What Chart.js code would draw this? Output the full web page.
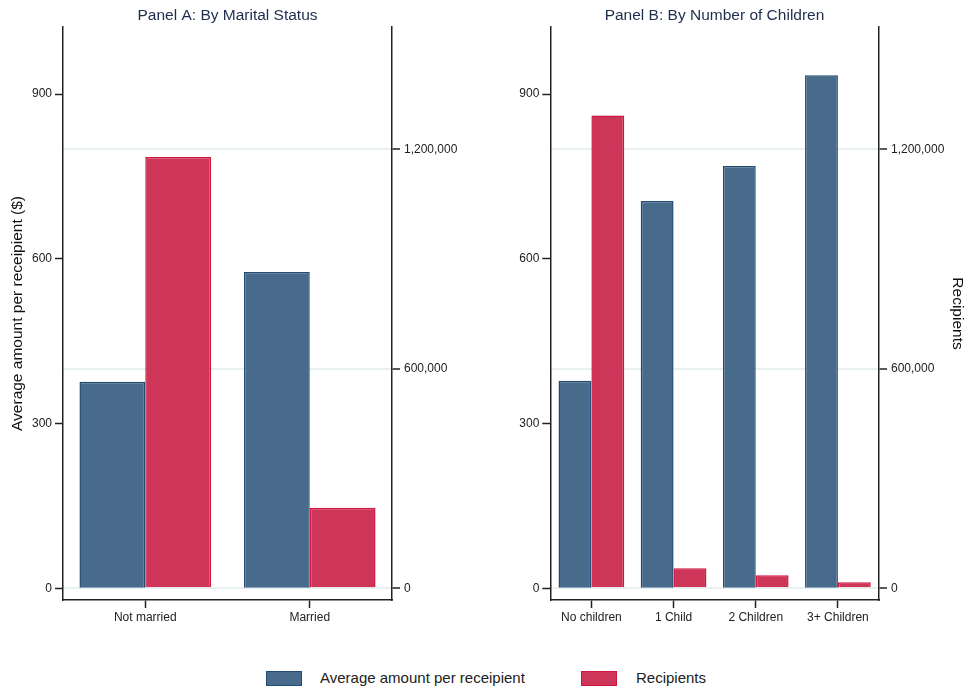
<!DOCTYPE html>
<html>
<head>
<meta charset="utf-8">
<script src="https://cdn.jsdelivr.net/npm/chart.js@4/dist/chart.umd.min.js"></script>
<style>
  html, body { margin: 0; padding: 0; background: #fff; }
  body { width: 967px; height: 689px; position: relative; overflow: hidden; font-family: "Liberation Sans", Arial, sans-serif; }
  .panel { position: absolute; top: 0; }
  #panel-a { left: -25px; }
  #panel-b { left: 460px; }
  .legend { position: absolute; top: 669px; height: 20px; font-size: 15px; color: #222; }
  .legend .item { position: absolute; top: 0; white-space: nowrap; }
  .legend .swatch { position: absolute; top: 2px; width: 34px; height: 13px; border: 1.5px solid; }
  .legend .label { position: absolute; top: 0; line-height: 18px; }
</style>
</head>
<body>
<canvas id="panel-a" class="panel" width="505" height="650"></canvas>
<canvas id="panel-b" class="panel" width="507" height="650"></canvas>
<div class="legend">
  <div class="item" style="left:266px">
    <div class="swatch" style="background:#486a8b;border-color:#234a72"></div>
    <div class="label" style="left:54px">Average amount per receipient</div>
  </div>
  <div class="item" style="left:581px">
    <div class="swatch" style="background:#cd3659;border-color:#d0163f"></div>
    <div class="label" style="left:55px">Recipients</div>
  </div>
</div>
<script>
const MARITAL_LABELS = ['Not married', 'Married'];
const MARITAL_AVG = [376, 576];
const MARITAL_RECIPIENTS = [1179000, 220000];

const CHILDREN_LABELS = ['No children', '1 Child', '2 Children', '3+ Children'];
const CHILDREN_AVG = [378, 705, 769, 934];
const CHILDREN_RECIPIENTS = [1292000, 54700, 35500, 16400];

const AVG_TICKS = [0, 300, 600, 900];
const RECIPIENT_TICKS = [0, 600000, 1200000];

const BLUE = '#486a8b', BLUE_EDGE = '#234a72';
const RED = '#cd3659', RED_EDGE = '#d0163f';
const AXIS = '#222';
const FONT = '"Liberation Sans", Arial, sans-serif';

const fmtInt = (v) => v.toLocaleString('en-US');

// One panel: left axis = average amount, right axis = recipients.
// Axis widths are fixed so the title lands centred over the plot area.
function makePanel(canvasId, { title, labels, avg, recipients, leftWidth, rightWidth, pad, leftTitle, leftTitlePad, rightTitle }) {
  const tickFont = { family: FONT, size: 12 };
  const axisTitleFont = { family: FONT, size: 15.5 };
  const fixedTicks = (values) => (scale) => { scale.ticks = values.map((v) => ({ value: v })); };
  return new Chart(document.getElementById(canvasId), {
    type: 'bar',
    data: {
      labels,
      datasets: [
        { label: 'Average amount per receipient', data: avg, yAxisID: 'y',
          backgroundColor: BLUE, borderColor: BLUE_EDGE, borderWidth: 1.5 },
        { label: 'Recipients', data: recipients, yAxisID: 'y1',
          backgroundColor: RED, borderColor: RED_EDGE, borderWidth: 1.5 },
      ],
    },
    options: {
      responsive: false,
      animation: false,
      layout: { padding: { left: pad.left, right: pad.right, top: 0, bottom: 0 } },
      datasets: { bar: { categoryPercentage: 0.8, barPercentage: 1 } },
      plugins: {
        legend: { display: false },
        tooltip: { enabled: false },
        title: {
          display: true, text: title, color: '#1f2d4d',
          font: { family: FONT, size: 15.5, weight: 'normal' },
          padding: { top: 6, bottom: 2.4 },
        },
      },
      scales: {
        x: {
          offset: true,
          grid: { offset: false, drawOnChartArea: false, tickLength: 8, tickColor: AXIS, tickWidth: 1.5 },
          border: { display: true, color: AXIS, width: 1.5 },
          ticks: { color: AXIS, font: tickFont, padding: 2, maxRotation: 0 },
          afterFit: (s) => { s.height = 50; },
        },
        y: {
          position: 'left',
          min: -21.3, max: 1022,
          afterBuildTicks: fixedTicks(AVG_TICKS),
          grid: { drawOnChartArea: false, tickLength: 8, tickColor: AXIS, tickWidth: 1.5 },
          border: { display: true, color: AXIS, width: 1.5 },
          ticks: { color: AXIS, font: tickFont, padding: 3 },
          title: {
            display: !!leftTitle, text: leftTitle || '', color: '#111',
            font: axisTitleFont, padding: { top: leftTitlePad || 0, bottom: 0 },
          },
          afterFit: (s) => { s.width = leftWidth; },
        },
        y1: {
          position: 'right',
          min: -32000, max: 1534000,
          afterBuildTicks: fixedTicks(RECIPIENT_TICKS),
          grid: { drawOnChartArea: true, color: '#e8f0f2', lineWidth: 2,
                  tickLength: 8, tickColor: AXIS, tickWidth: 1.5 },
          border: { display: true, color: AXIS, width: 1.5 },
          ticks: { color: AXIS, font: tickFont, padding: 4, callback: (v) => fmtInt(v) },
          title: {
            display: !!rightTitle, text: rightTitle || '', color: '#111',
            font: axisTitleFont, padding: { top: 0, bottom: 0 },
          },
          afterFit: (s) => { s.width = rightWidth; },
        },
      },
    },
  });
}

makePanel('panel-a', {
  title: 'Panel A: By Marital Status',
  labels: MARITAL_LABELS, avg: MARITAL_AVG, recipients: MARITAL_RECIPIENTS,
  leftWidth: 88, rightWidth: 88, pad: { left: 0, right: 0 },
  leftTitle: 'Average amount per receipient ($)', leftTitlePad: 33,
});

makePanel('panel-b', {
  title: 'Panel B: By Number of Children',
  labels: CHILDREN_LABELS, avg: CHILDREN_AVG, recipients: CHILDREN_RECIPIENTS,
  leftWidth: 88.3, rightWidth: 88, pad: { left: 2, right: 0 },
  rightTitle: 'Recipients',
});
</script>
</body>
</html>
